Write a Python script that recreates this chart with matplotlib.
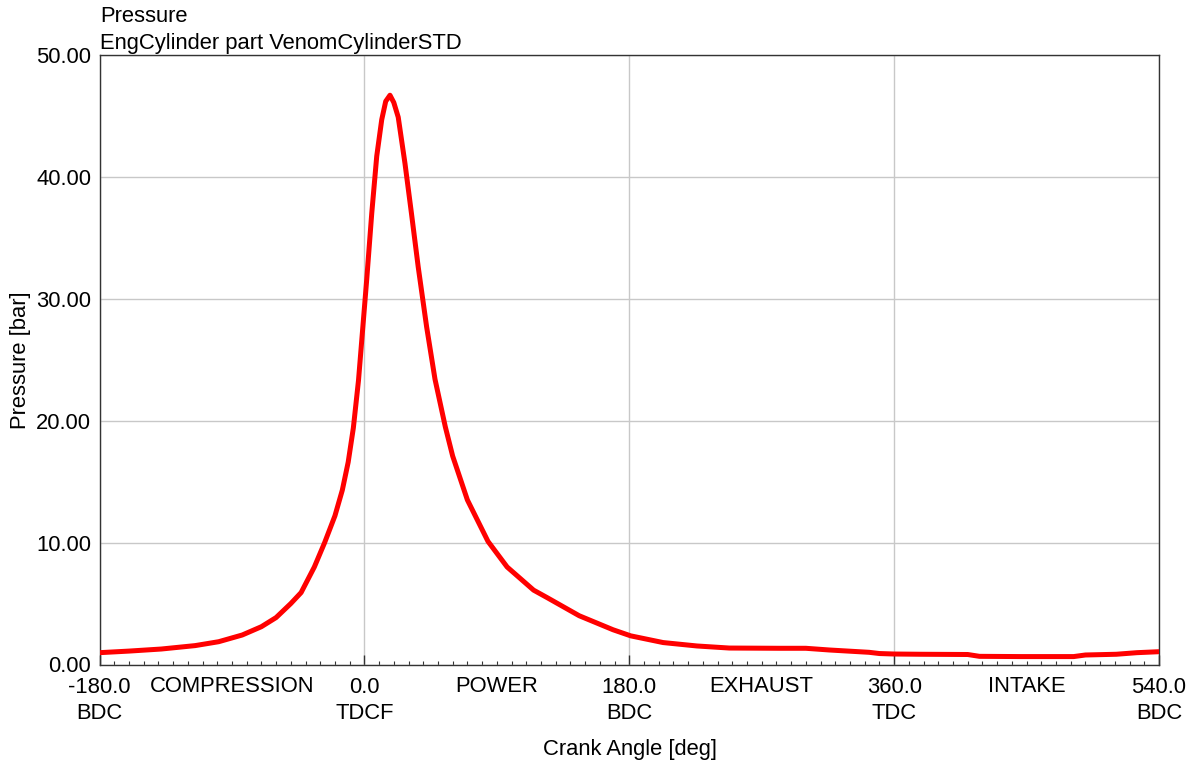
import matplotlib
matplotlib.use("Agg")
import matplotlib.pyplot as plt
from matplotlib.ticker import MultipleLocator, FixedLocator
import matplotlib.transforms as mtransforms

plt.rcParams["font.family"] = ["Liberation Sans", "DejaVu Sans"]

# cylinder pressure trace over one 720 deg cycle
crank_deg = [-180, -160, -138, -115, -99, -83, -70, -60, -50, -43, -34, -27,
             -20, -15, -11, -7.5, -4, 1.6, 5, 8.4, 11.8, 14.5, 17.4, 20, 23,
             27.6, 32, 36.6, 42.3, 48, 55, 60, 70, 84, 97, 115, 124, 135, 146,
             156, 169, 181, 203, 226, 248, 282, 300, 316, 343, 350, 360, 378,
             410, 418, 446, 482, 490, 511, 525, 540]
pressure_bar = [0.97, 1.1, 1.27, 1.55, 1.87, 2.42, 3.1, 3.85, 5.0, 5.9, 8.0,
                10.0, 12.2, 14.3, 16.6, 19.4, 23.3, 31.6, 37.0, 41.7, 44.7,
                46.2, 46.7, 46.1, 44.9, 41.1, 37.0, 32.6, 27.7, 23.4, 19.5,
                17.1, 13.5, 10.1, 8.0, 6.1, 5.5, 4.75, 4.0, 3.5, 2.85, 2.35,
                1.8, 1.52, 1.35, 1.33, 1.33, 1.19, 1.0, 0.9, 0.86, 0.84, 0.82,
                0.67, 0.65, 0.65, 0.78, 0.84, 0.97, 1.05]

major_ticks = [-180, 0, 180, 360, 540]
major_labels = ["-180.0\nBDC", "0.0\nTDCF", "180.0\nBDC", "360.0\nTDC", "540.0\nBDC"]
stroke_pos = [-90, 90, 270, 450]
stroke_names = ["COMPRESSION", "POWER", "EXHAUST", "INTAKE"]

FS = 15.8
GRID = "#c8c8c8"
SPINE = "#333333"

fig = plt.figure(figsize=(11.99, 7.71), dpi=100)
ax = fig.add_axes([99.5 / 1199, 1 - 664.5 / 771, 1059.5 / 1199, 609.5 / 771])

ax.plot(crank_deg, pressure_bar, color="#ff0000", lw=3.6,
        solid_joinstyle="round", solid_capstyle="round", zorder=3)

ax.set_xlim(-180, 540)
ax.set_ylim(0, 50)

ax.xaxis.set_major_locator(FixedLocator(major_ticks))
ax.set_xticklabels(major_labels)
ax.xaxis.set_minor_locator(MultipleLocator(10))
ax.yaxis.set_major_locator(MultipleLocator(10))
ax.yaxis.set_major_formatter(lambda v, p: f"{v:.2f}")

ax.tick_params(axis="x", which="major", direction="in", length=7, width=1,
               color=SPINE, labelsize=FS, pad=9)
ax.tick_params(axis="x", which="minor", direction="in", length=3.2, width=0.8,
               color=SPINE)
ax.tick_params(axis="y", length=0, labelsize=FS, pad=6)
for lbl in ax.get_xticklabels():
    lbl.set_linespacing(1.3)

ax.grid(True, which="major", color=GRID, lw=1)
for s in ax.spines.values():
    s.set_color(SPINE)
    s.set_linewidth(1)

# stroke names sit on the first line of the tick labels
trans = mtransforms.blended_transform_factory(ax.transData, fig.transFigure)
for xp, name in zip(stroke_pos, stroke_names):
    ax.text(xp, 1 - 687 / 771, name, transform=trans, ha="center",
            va="center", fontsize=FS)

fig.text(630 / 1199, 1 - 750 / 771, "Crank Angle [deg]", fontsize=FS,
         ha="center", va="center")
fig.text(21 / 1199, 1 - 360 / 771, "Pressure [bar]", fontsize=FS,
         ha="center", va="center", rotation=90)

fig.text(100 / 1199, 1 - 17 / 771, "Pressure", fontsize=FS, va="center")
fig.text(100 / 1199, 1 - 43 / 771, "EngCylinder part VenomCylinderSTD",
         fontsize=FS, va="center")

fig.savefig("out.png", facecolor="white")
